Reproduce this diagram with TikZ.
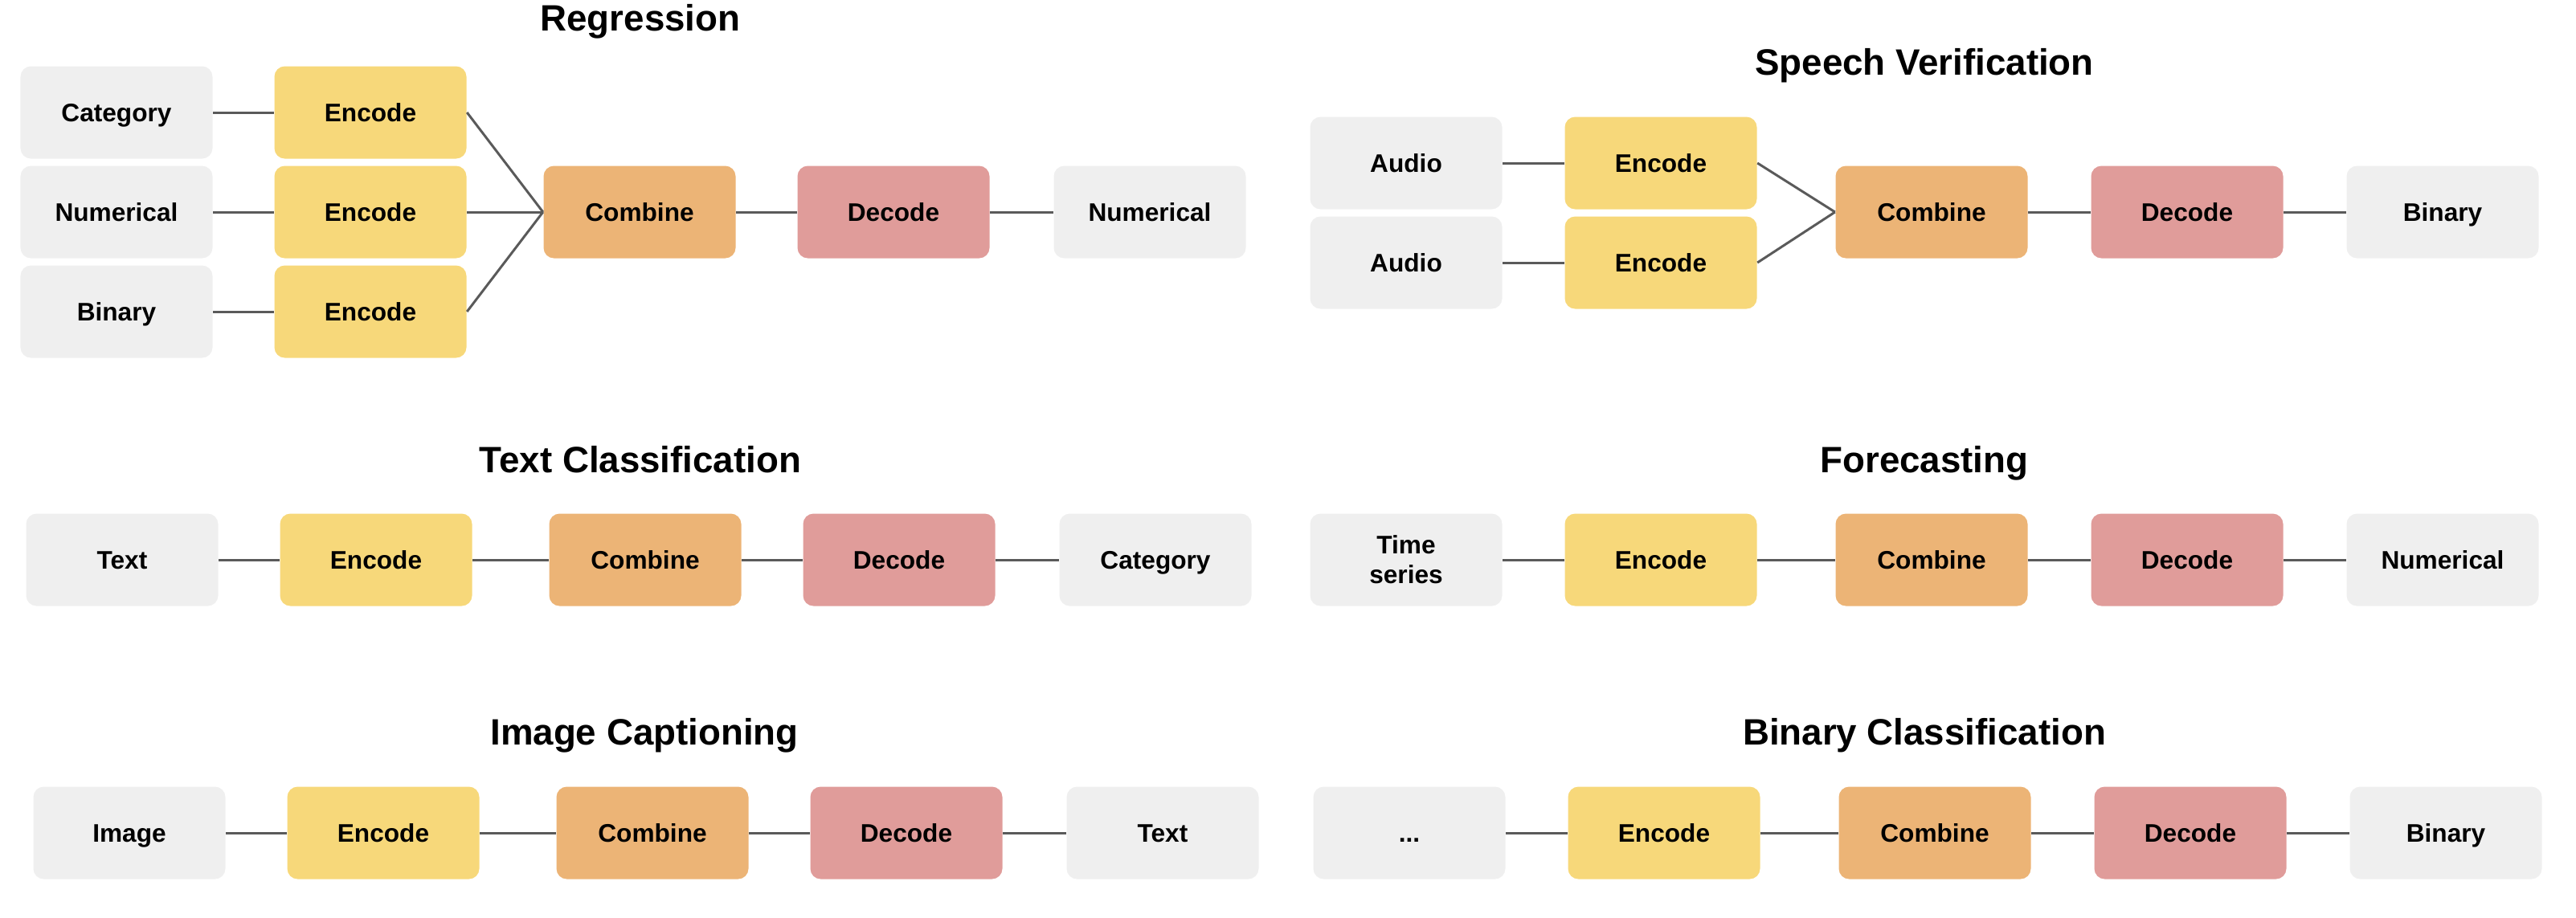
\documentclass[tikz,border=0pt]{standalone}
\usepackage{fontspec}
\setmainfont{Liberation Sans}
\usepackage{xcolor}
\usepackage{tikz}

\definecolor{cinzaBox}{HTML}{EFEFEF}
\definecolor{amareloEnc}{HTML}{F7D87A}
\definecolor{laranjaComb}{HTML}{ECB476}
\definecolor{rosaDec}{HTML}{E09C9A}
\definecolor{cinzaFio}{HTML}{5A5A5A}

\begin{document}
\begin{tikzpicture}[
    % Caixas com cantos arredondados, sem contorno
    basebox/.style={rectangle, rounded corners=1.3mm, minimum width=2.39cm, minimum height=1.15cm, inner sep=0pt, align=center, text height=6.4pt, text depth=0pt, font=\fontsize{9}{10.5}\selectfont\bfseries},
    iobox/.style={basebox, fill=cinzaBox},
    encbox/.style={basebox, fill=amareloEnc},
    combbox/.style={basebox, fill=laranjaComb},
    decbox/.style={basebox, fill=rosaDec},
    titulo/.style={anchor=base, font=\fontsize{13}{15}\selectfont\bfseries},
    linhaFio/.style={draw=cinzaFio, line width=0.85pt}
]

\useasboundingbox (0,0) rectangle (32.06,-11.42);

% ==========================
% COLUNAS X (esquerda / direita)
% ==========================
\def\LIn{1.45}  \def\LEnc{4.61}  \def\LComb{7.96}  \def\LDec{11.12}  \def\LOut{14.31}
\def\RIn{17.50} \def\REnc{20.67} \def\RComb{24.04} \def\RDec{27.22} \def\ROut{30.40}

% ==========================
% REGRESSION
% ==========================
\node[titulo] (reg_t) at (7.97,-0.38) {Regression};
\node[iobox]  (reg_in1)  at (\LIn,-1.40) {Category};
\node[iobox]  (reg_in2)  at (\LIn,-2.64) {Numerical};
\node[iobox]  (reg_in3)  at (\LIn,-3.88) {Binary};
\node[encbox] (reg_enc1) at (\LEnc,-1.40) {Encode};
\node[encbox] (reg_enc2) at (\LEnc,-2.64) {Encode};
\node[encbox] (reg_enc3) at (\LEnc,-3.88) {Encode};
\node[combbox] (reg_comb) at (\LComb,-2.64) {Combine};
\node[decbox]  (reg_dec)  at (\LDec,-2.64) {Decode};
\node[iobox]   (reg_out)  at (\LOut,-2.64) {Numerical};

\foreach \i in {1,2,3} {
    \draw[linhaFio] (reg_in\i) -- (reg_enc\i);
    \draw[linhaFio] (reg_enc\i.east) -- (reg_comb.west);
}
\draw[linhaFio] (reg_comb) -- (reg_dec);
\draw[linhaFio] (reg_dec) -- (reg_out);

% ==========================
% SPEECH VERIFICATION
% ==========================
\node[titulo] (sv_t) at (23.95,-0.93) {Speech Verification};
\node[iobox]  (sv_in1)  at (\RIn,-2.03) {Audio};
\node[iobox]  (sv_in2)  at (\RIn,-3.27) {Audio};
\node[encbox] (sv_enc1) at (\REnc,-2.03) {Encode};
\node[encbox] (sv_enc2) at (\REnc,-3.27) {Encode};
\node[combbox] (sv_comb) at (\RComb,-2.64) {Combine};
\node[decbox]  (sv_dec)  at (\RDec,-2.64) {Decode};
\node[iobox]   (sv_out)  at (\ROut,-2.64) {Binary};

\foreach \i in {1,2} {
    \draw[linhaFio] (sv_in\i) -- (sv_enc\i);
    \draw[linhaFio] (sv_enc\i.east) -- (sv_comb.west);
}
\draw[linhaFio] (sv_comb) -- (sv_dec);
\draw[linhaFio] (sv_dec) -- (sv_out);

% ==========================
% TEXT CLASSIFICATION
% ==========================
\node[titulo] (tc_t) at (7.97,-5.88) {Text Classification};
\node[iobox]   (tc_in)   at (\LIn+0.07,-6.97) {Text};
\node[encbox]  (tc_enc)  at (\LEnc+0.07,-6.97) {Encode};
\node[combbox] (tc_comb) at (\LComb+0.07,-6.97) {Combine};
\node[decbox]  (tc_dec)  at (\LDec+0.07,-6.97) {Decode};
\node[iobox]   (tc_out)  at (\LOut+0.07,-6.97) {Category};

% ==========================
% FORECASTING
% ==========================
\node[titulo] (fc_t) at (23.95,-5.88) {Forecasting};
\node[iobox, text height={}, text depth={}] (fc_in) at (\RIn,-6.97) {Time\\series};
\node[encbox]  (fc_enc)  at (\REnc,-6.97) {Encode};
\node[combbox] (fc_comb) at (\RComb,-6.97) {Combine};
\node[decbox]  (fc_dec)  at (\RDec,-6.97) {Decode};
\node[iobox]   (fc_out)  at (\ROut,-6.97) {Numerical};

% ==========================
% IMAGE CAPTIONING
% ==========================
\node[titulo] (ic_t) at (8.02,-9.27) {Image Captioning};
\node[iobox]   (ic_in)   at (\LIn+0.16,-10.37) {Image};
\node[encbox]  (ic_enc)  at (\LEnc+0.16,-10.37) {Encode};
\node[combbox] (ic_comb) at (\LComb+0.16,-10.37) {Combine};
\node[decbox]  (ic_dec)  at (\LDec+0.16,-10.37) {Decode};
\node[iobox]   (ic_out)  at (\LOut+0.16,-10.37) {Text};

% ==========================
% BINARY CLASSIFICATION
% ==========================
\node[titulo] (bc_t) at (23.95,-9.27) {Binary Classification};
\node[iobox]   (bc_in)   at (\RIn+0.04,-10.37) {...};
\node[encbox]  (bc_enc)  at (\REnc+0.04,-10.37) {Encode};
\node[combbox] (bc_comb) at (\RComb+0.04,-10.37) {Combine};
\node[decbox]  (bc_dec)  at (\RDec+0.04,-10.37) {Decode};
\node[iobox]   (bc_out)  at (\ROut+0.04,-10.37) {Binary};

% Ligacoes em linha (mesmo padrao nos quatro paineis)
\foreach \p in {tc,fc,ic,bc} {
    \draw[linhaFio] (\p_in) -- (\p_enc);
    \draw[linhaFio] (\p_enc) -- (\p_comb);
    \draw[linhaFio] (\p_comb) -- (\p_dec);
    \draw[linhaFio] (\p_dec) -- (\p_out);
}

\end{tikzpicture}
\end{document}
